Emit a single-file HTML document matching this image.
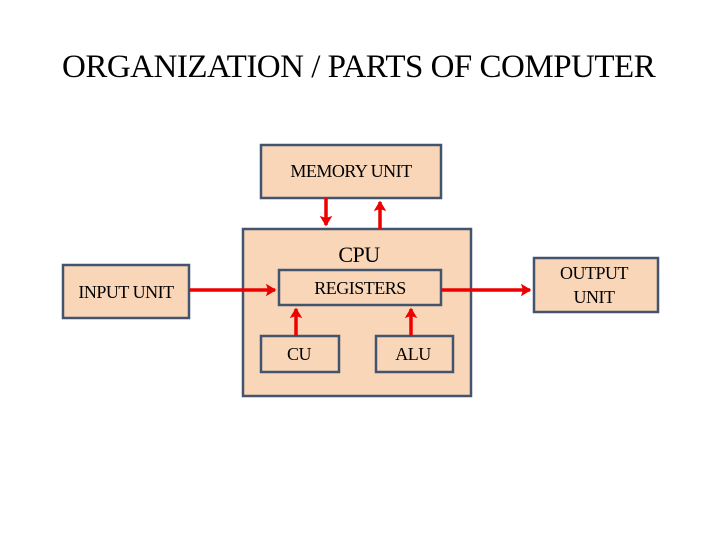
<!DOCTYPE html>
<html><head><style>
body{margin:0;width:720px;height:540px;background:#fff;overflow:hidden;position:relative;font-family:"Liberation Serif",serif;}
.t{position:absolute;left:62px;top:49px;white-space:nowrap;font-size:33px;color:#000;letter-spacing:-0.5px;}
</style></head><body>
<div class="t">ORGANIZATION / PARTS OF COMPUTER</div>
<svg width="720" height="540" style="position:absolute;left:0;top:0" font-family="Liberation Serif, serif">
<defs><marker id="a" markerWidth="4" markerHeight="4" refX="2.6" refY="2" orient="auto" markerUnits="strokeWidth"><path d="M0,0.2 L3,2 L0,3.8 L0.6,2 Z" fill="#e00"/></marker></defs>
<g fill="#fad6b8" stroke="#43546e" stroke-width="2.5">
<rect x="261" y="145" width="180" height="53"/>
<rect x="243" y="229" width="228" height="167"/>
<rect x="63" y="265" width="126" height="53"/>
<rect x="534" y="258" width="124" height="54"/>
<rect x="279" y="270" width="162" height="35"/>
<rect x="261" y="336" width="78" height="36"/>
<rect x="376" y="336" width="77" height="36"/>
</g>
<g stroke="#e00" stroke-width="3.5" fill="none" marker-end="url(#a)">
<line x1="326" y1="198" x2="326" y2="225"/>
<line x1="380" y1="229" x2="380" y2="202"/>
<line x1="189" y1="290" x2="275" y2="290"/>
<line x1="441" y1="290" x2="530" y2="290"/>
<line x1="296" y1="336" x2="296" y2="309"/>
<line x1="411" y1="336" x2="411" y2="309"/>
</g>
<g font-size="18" text-anchor="middle" fill="#000" letter-spacing="-0.5">
<text x="351" y="177">MEMORY UNIT</text>
<text x="359" y="262" font-size="22">CPU</text>
<text x="126" y="298">INPUT UNIT</text>
<text x="594" y="279">OUTPUT</text>
<text x="594" y="303">UNIT</text>
<text x="360" y="294">REGISTERS</text>
<text x="299" y="360">CU</text>
<text x="413" y="360">ALU</text>
</g>
</svg>
</body></html>
